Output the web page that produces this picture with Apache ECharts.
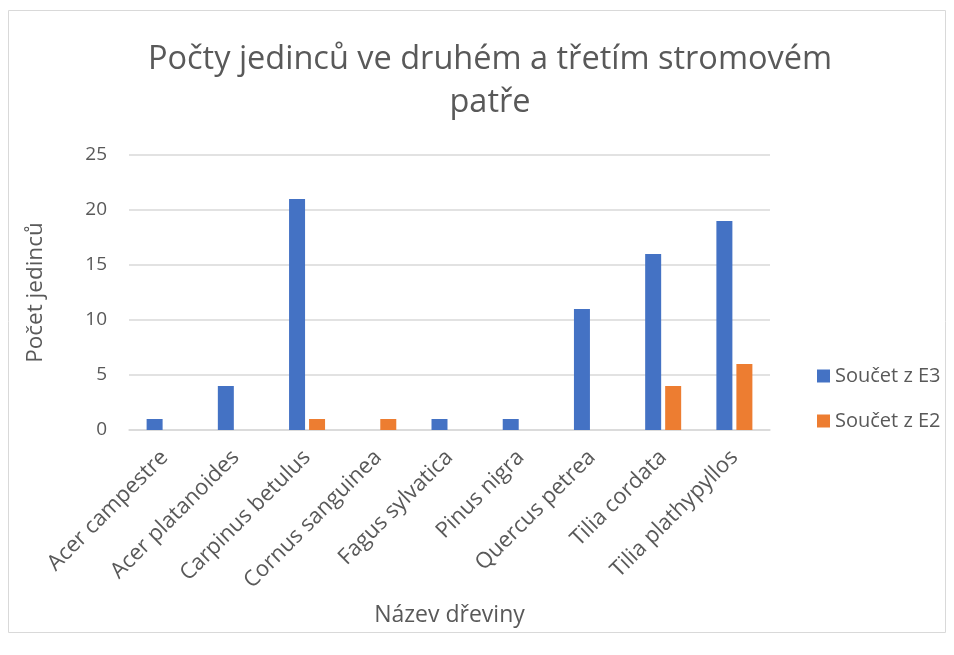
<!DOCTYPE html>
<html>
<head>
<meta charset="UTF-8">
<title>Počty jedinců</title>
<style>
  * { margin:0; padding:0; }
  body { background:#fff; }
  #chart { width:954px; height:655px; }
</style>
</head>
<body>
<div id="chart"></div>
<script src="https://cdn.jsdelivr.net/npm/echarts@6/dist/echarts.min.js"></script>
<script>
var categories = ["Acer campestre", "Acer platanoides", "Carpinus betulus", "Cornus sanguinea",
  "Fagus sylvatica", "Pinus nigra", "Quercus petrea", "Tilia cordata", "Tilia plathypyllos"];
var e3 = [1, 4, 21, 0, 1, 1, 11, 16, 19];
var e2 = [0, 0, 1, 1, 0, 0, 0, 4, 6];
var seriesNames = ["Součet z E3", "Součet z E2"];

var font = "Open Sans";
var grey = "#595959";

var chart = echarts.init(document.getElementById("chart"));
chart.setOption({
  animation: false,
  textStyle: { fontFamily: font },
  graphic: [{
    type: "rect",
    shape: { x: 8.5, y: 10.5, width: 937, height: 622 },
    style: { fill: "none", stroke: "#d9d9d9", lineWidth: 1 }
  }],
  title: {
    text: "Počty jedinců ve druhém a třetím stromovém\npatře",
    left: 485, top: 33, textAlign: "center",
    textStyle: { fontFamily: font, fontSize: 32.5, fontWeight: "normal", color: grey, lineHeight: 43 }
  },
  legend: {
    orient: "vertical",
    left: 812, top: 358,
    itemWidth: 13, itemHeight: 13, itemGap: 19,
    icon: "rect",
    data: seriesNames,
    textStyle: { fontFamily: font, fontSize: 20, color: grey, lineHeight: 26 }
  },
  grid: { left: 129, right: 184, top: 155, bottom: 225 },
  xAxis: {
    type: "category",
    data: categories,
    name: "Název dřeviny",
    nameLocation: "middle",
    nameGap: 174,
    nameTextStyle: { fontFamily: font, fontSize: 23, color: grey },
    axisLine: { lineStyle: { color: "#d9d9d9", width: 1.5 } },
    axisTick: { show: false },
    axisLabel: { rotate: 45, fontSize: 22, color: grey, margin: 24, fontFamily: font }
  },
  yAxis: {
    type: "value",
    min: 0, max: 25, interval: 5,
    name: "Počet jedinců",
    nameLocation: "middle",
    nameGap: 82,
    nameRotate: 90,
    nameTextStyle: { fontFamily: font, fontSize: 22.5, color: grey },
    axisLine: { show: false },
    axisTick: { show: false },
    axisLabel: { fontSize: 19, color: grey, margin: 22, fontFamily: font },
    splitLine: { lineStyle: { color: "#d9d9d9", width: 1.5 } }
  },
  series: [
    { name: seriesNames[0], type: "bar", data: e3, barWidth: 16, barGap: "25%",
      itemStyle: { color: "#4472c4" } },
    { name: seriesNames[1], type: "bar", data: e2, barWidth: 16, barGap: "25%",
      itemStyle: { color: "#ed7d31" } }
  ]
});
</script>
</body>
</html>
